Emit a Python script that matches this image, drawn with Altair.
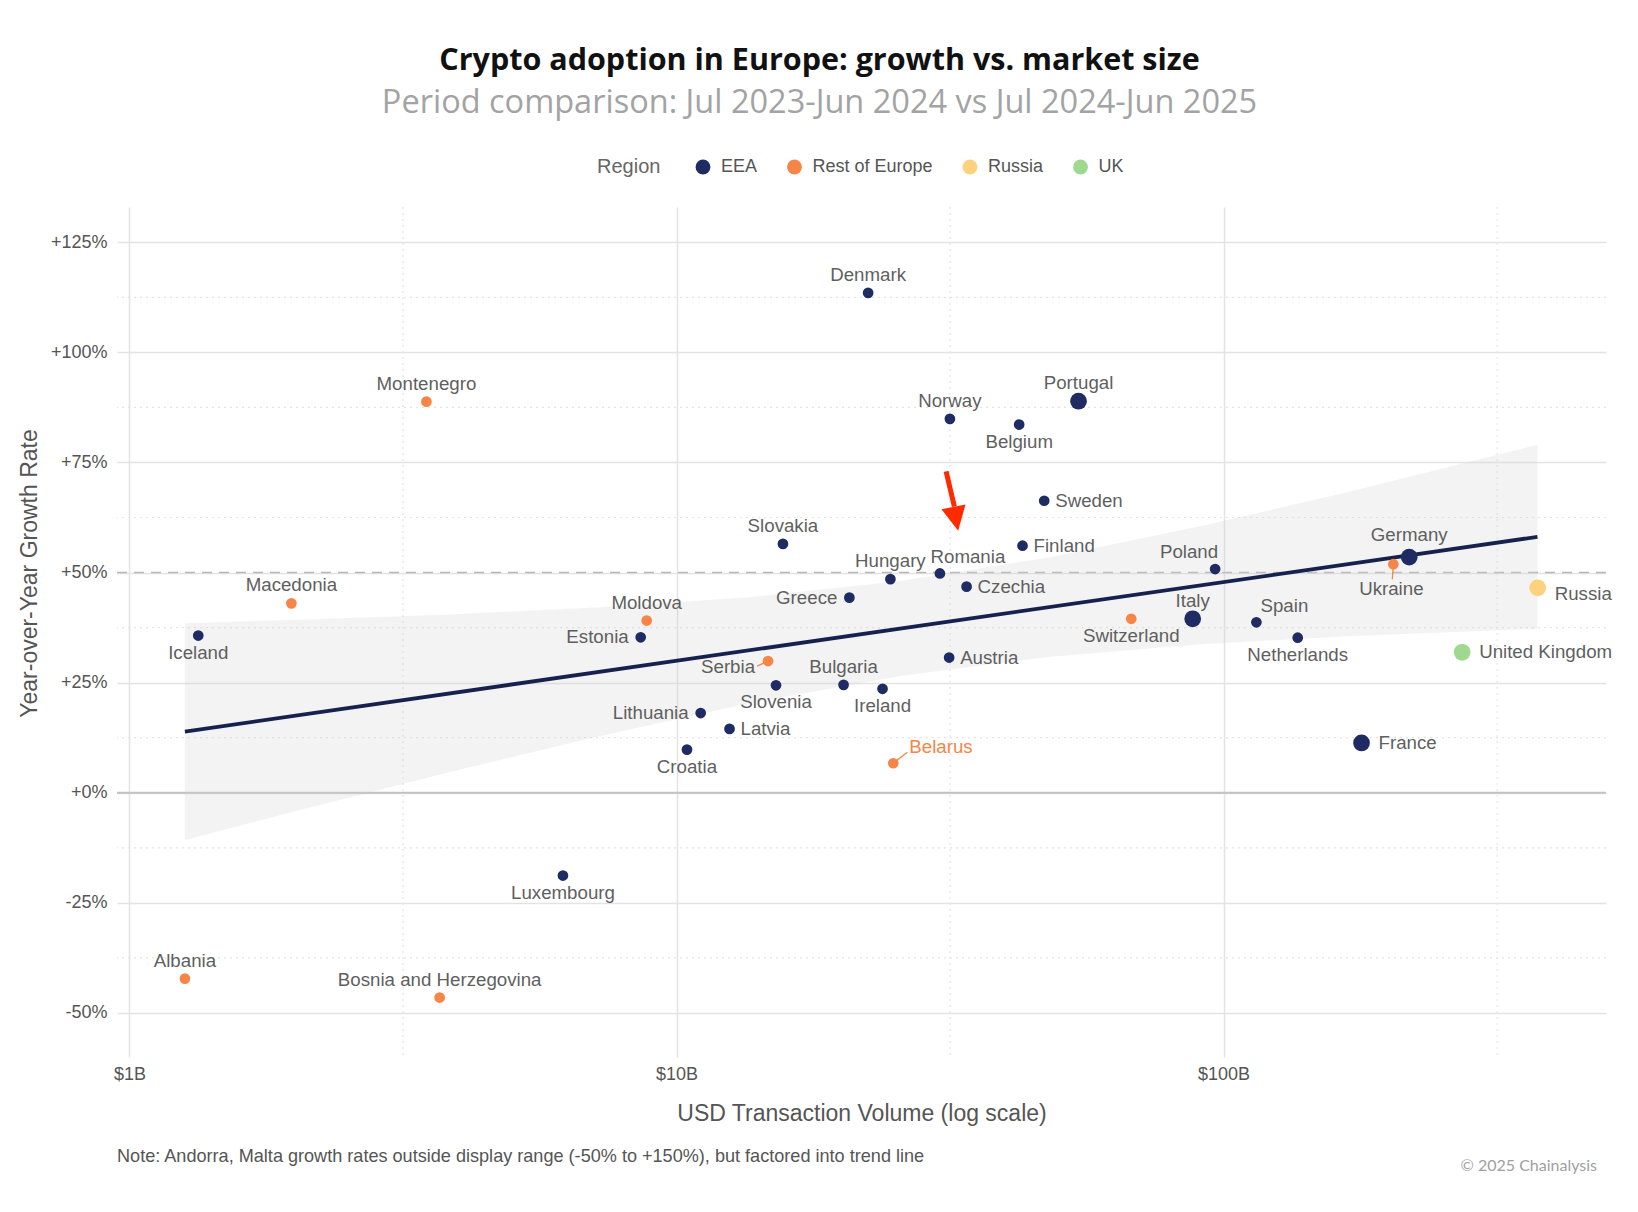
import altair as alt
import pandas as pd

# ---------------- data ----------------
countries = ["Denmark", "Portugal", "Norway", "Belgium", "Sweden", "Finland", "Slovakia",
             "Romania", "Hungary", "Czechia", "Greece", "Poland", "Germany", "Italy", "Spain",
             "Netherlands", "France", "Iceland", "Estonia", "Austria", "Slovenia", "Bulgaria",
             "Ireland", "Lithuania", "Latvia", "Croatia", "Luxembourg",
             "Montenegro", "Macedonia", "Moldova", "Serbia", "Belarus", "Switzerland",
             "Ukraine", "Albania", "Bosnia and Herzegovina",
             "Russia", "United Kingdom"]
regions = ["EEA"] * 27 + ["Rest of Europe"] * 9 + ["Russia", "UK"]
volume_busd = [22.4, 54.3, 31.6, 42.3, 47.0, 42.9, 15.65, 30.3, 24.6, 33.9, 20.7, 96.5,
               218.4, 87.8, 114.8, 136.6, 178.7, 1.336, 8.60, 31.5, 15.2, 20.2, 23.8, 11.07,
               12.5, 10.45, 6.2,
               3.49, 1.977, 8.82, 14.7, 24.9, 67.8, 204.3, 1.263, 3.69,
               375.0, 272.9]
growth_pct = [113.5, 88.9, 84.9, 83.6, 66.3, 56.1, 56.5, 49.8, 48.5, 46.8, 44.3, 50.8,
              53.5, 39.5, 38.7, 35.2, 11.3, 35.7, 35.3, 30.7, 24.4, 24.5, 23.6, 18.1,
              14.5, 9.8, -18.8,
              88.8, 43.0, 39.1, 29.9, 6.7, 39.5, 51.9, -42.2, -46.5,
              46.5, 31.9]
large_markers = ["Portugal", "Germany", "Italy", "France", "Russia", "United Kingdom"]

# label placement class for each country (same order as countries)
label_pos = ["top", "top", "top", "bottom", "right", "right", "top",
             "top_right", "top", "right", "left", "top_left", "top_big", "top", "top_right",
             "bottom", "right_big", "bottom", "left", "right", "bottom", "top",
             "bottom", "left", "right", "bottom", "bottom",
             "top", "top", "top", "left_low", "upright", "bottom",
             "bottom_far", "top", "top",
             "right_low", "right_big"]

# trend line and its confidence band
trend_x = [1.263, 374.7]
trend_y = [13.9, 58.1]
band_x = [1.263, 2.05, 3.855, 7.25, 13.63, 25.64, 48.2, 90.7, 170.5, 374.7]
band_lo = [-10.7, -3.9, 4.7, 12.9, 20.4, 26.5, 30.9, 33.7, 35.6, 37.2]
band_hi = [38.5, 39.3, 40.5, 42.1, 44.4, 48.1, 53.5, 60.5, 68.4, 79.0]

# arrow pointing at Romania
arrow_x = [31.1, 32.2]
arrow_y = [72.96, 65.0]
arrow_head_x = [32.4]
arrow_head_y = [62.2]

region_names = ["EEA", "Rest of Europe", "Russia", "UK"]
region_colors = ["#1f2c64", "#f68547", "#fdd27f", "#9ed98f"]

x_ticks = [1, 10, 100]
y_ticks = [-50, -25, 0, 25, 50, 75, 100, 125]
x_minor = [3.1623, 31.623, 316.23]
y_minor = [-37.5, -12.5, 12.5, 37.5, 62.5, 87.5, 112.5]

note_text = "Note: Andorra, Malta growth rates outside display range (-50% to +150%), but factored into trend line"
credit_text = "\u00a9 2025 Chainalysis"

# ---------------- tables ----------------
df = pd.DataFrame({
    "country": countries,
    "region": regions,
    "vol": volume_busd,
    "growth": growth_pct,
    "sz": ["L" if c in large_markers else "s" for c in countries],
    "pos": label_pos,
})
trend_df = pd.DataFrame({"vol": trend_x, "growth": trend_y})
band_df = pd.DataFrame({"vol": band_x, "growth": band_lo, "hi": band_hi})
arrow_df = pd.DataFrame({"vol": arrow_x, "growth": arrow_y})
head_df = pd.DataFrame({"vol": arrow_head_x, "growth": arrow_head_y})

LABEL_FONT = "Liberation Sans"
GRAY = "#5f5f5f"
W, H = 1489, 850

xscale = alt.Scale(type="log", domain=[0.949, 500], nice=False)
yscale = alt.Scale(domain=[-60, 133], nice=False, zero=False)

x_axis = alt.Axis(values=x_ticks, labelExpr="'$' + datum.value + 'B'", grid=True,
                  gridColor="#e3e3e3", gridWidth=1.5, ticks=False, domain=False,
                  labelFont=LABEL_FONT, labelFontSize=18, labelColor="#555555",
                  labelPadding=8, title="USD Transaction Volume (log scale)",
                  titleFont=LABEL_FONT, titleFontSize=23, titleFontWeight="normal",
                  titleColor="#555555", titleBaseline="alphabetic", titleY=63)
y_axis = alt.Axis(values=y_ticks,
                  labelExpr="(datum.value >= 0 ? '+' : '') + datum.value + '%'",
                  grid=True, gridColor="#e3e3e3", gridWidth=1.5, ticks=False, domain=False,
                  labelFont=LABEL_FONT, labelFontSize=18, labelColor="#555555",
                  labelPadding=10, title="Year-over-Year Growth Rate",
                  titleFont=LABEL_FONT, titleFontSize=23, titleFontWeight="normal",
                  titleColor="#555555", titleBaseline="middle", titleAngle=270,
                  titleX=-88, titleY=366)

X = alt.X("vol:Q", scale=xscale)
Y = alt.Y("growth:Q", scale=yscale)

base = alt.Chart(df)

minor_h = alt.Chart(pd.DataFrame({"growth": y_minor})).mark_rule(
    color="#e4e4e4", strokeWidth=1.2, strokeDash=[2, 4]).encode(y=Y)
minor_v = alt.Chart(pd.DataFrame({"vol": x_minor})).mark_rule(
    color="#e4e4e4", strokeWidth=1.2, strokeDash=[2, 4]).encode(x=X)
zero_line = alt.Chart(pd.DataFrame({"growth": [0]})).mark_rule(
    color="#c2c2c2", strokeWidth=2).encode(y=Y)
fifty_line = alt.Chart(pd.DataFrame({"growth": [50]})).mark_rule(
    color="#b8b8b8", strokeWidth=1.5, strokeDash=[10, 7]).encode(y=Y)

band = alt.Chart(band_df).mark_area(color="#cfcfcf", opacity=0.25).encode(
    x=X, y=Y, y2="hi:Q")
trend = alt.Chart(trend_df).mark_line(color="#16224d", strokeWidth=3.8).encode(x=X, y=Y)

leaders = []
for name, ox, oy in [("Serbia", -11, 5), ("Belarus", 14, -11), ("Ukraine", -1, 15)]:
    leaders.append(
        base.transform_filter(alt.FieldEqualPredicate(field="country", equal=name))
        .mark_rule(color="#f68547", strokeWidth=1.3, x2Offset=ox, y2Offset=oy)
        .encode(x=X, y=Y, x2="vol:Q", y2="growth:Q"))

points = base.mark_circle(opacity=1).encode(
    x=alt.X("vol:Q", scale=xscale, axis=x_axis),
    y=alt.Y("growth:Q", scale=yscale, axis=y_axis),
    color=alt.Color("region:N",
                    scale=alt.Scale(domain=region_names, range=region_colors),
                    legend=alt.Legend(title="Region", orient="none", direction="horizontal",
                                      titleOrient="left", legendX=480, legendY=-49,
                                      titleFont=LABEL_FONT, titleFontSize=20,
                                      titleFontWeight="normal", titleColor="#666666",
                                      titlePadding=33, labelFont=LABEL_FONT,
                                      labelFontSize=18, labelColor="#555555",
                                      labelOffset=9, columnPadding=27.5, symbolSize=220,
                                      symbolType="circle", symbolStrokeWidth=0,
                                      symbolOpacity=1)),
    size=alt.Size("sz:N", scale=alt.Scale(domain=["s", "L"], range=[115, 280]),
                  legend=None),
)

label_styles = {
    "top": ("center", 0, -18),
    "top_big": ("center", 0, -22),
    "top_right": ("center", 28, -16),
    "top_left": ("right", 3, -17),
    "bottom": ("center", 0, 17),
    "bottom_far": ("center", -2, 25),
    "right": ("left", 11, 0),
    "right_big": ("left", 17, 0),
    "right_low": ("left", 17, 6),
    "left": ("right", -12, 0),
    "left_low": ("right", -13, 6),
    "upright": ("left", 16, -16),
}
labels = []
for key, (al, ddx, ddy) in label_styles.items():
    labels.append(
        base.transform_filter(alt.FieldEqualPredicate(field="pos", equal=key))
        .mark_text(align=al, baseline="middle", dx=ddx, dy=ddy, font=LABEL_FONT,
                   fontSize=18.7)
        .encode(x=X, y=Y, text="country:N",
                color=alt.condition(alt.datum.country == "Belarus",
                                    alt.value("#f68547"), alt.value(GRAY))))

arrow_shaft = alt.Chart(arrow_df).mark_line(color="#ff2a00", strokeWidth=5).encode(x=X, y=Y)
arrow_head = alt.Chart(head_df).mark_point(
    shape="M-1,-1L1,-1L0,1Z", filled=True, color="#ff2a00", opacity=1, size=600,
    angle=349, strokeWidth=0).encode(x=X, y=Y)

note = alt.Chart(pd.DataFrame({"t": [note_text]})).mark_text(
    align="left", baseline="middle", font=LABEL_FONT, fontSize=18.1, color="#555555").encode(
    text="t:N", x=alt.value(0), y=alt.value(950))
credit = alt.Chart(pd.DataFrame({"t": [credit_text]})).mark_text(
    align="right", baseline="middle", font="Lato", fontSize=16, color="#a0a0a0").encode(
    text="t:N", x=alt.value(1480), y=alt.value(959))

chart = alt.layer(
    minor_h, minor_v, zero_line, fifty_line, band, trend, *leaders, points,
    *labels, arrow_shaft, arrow_head, note, credit,
).properties(
    width=W, height=H,
    autosize=alt.AutoSizeParams(type="none"),
    padding={"left": 109, "top": 199, "right": 16, "bottom": 140},
    title=alt.TitleParams(
        text="Crypto adoption in Europe: growth vs. market size",
        subtitle="Period comparison: Jul 2023-Jun 2024 vs Jul 2024-Jun 2025",
        font="Open Sans", fontSize=30.5, fontWeight="bold", color="#111111",
        subtitleFont="Open Sans", subtitleFontSize=32.5, subtitleColor="#a3a3a3",
        subtitlePadding=10, anchor="middle", dx=-42, offset=39),
).configure(background="white").configure_view(stroke=None)

chart.save("out.html", embed_options={"renderer": "svg", "actions": False})
